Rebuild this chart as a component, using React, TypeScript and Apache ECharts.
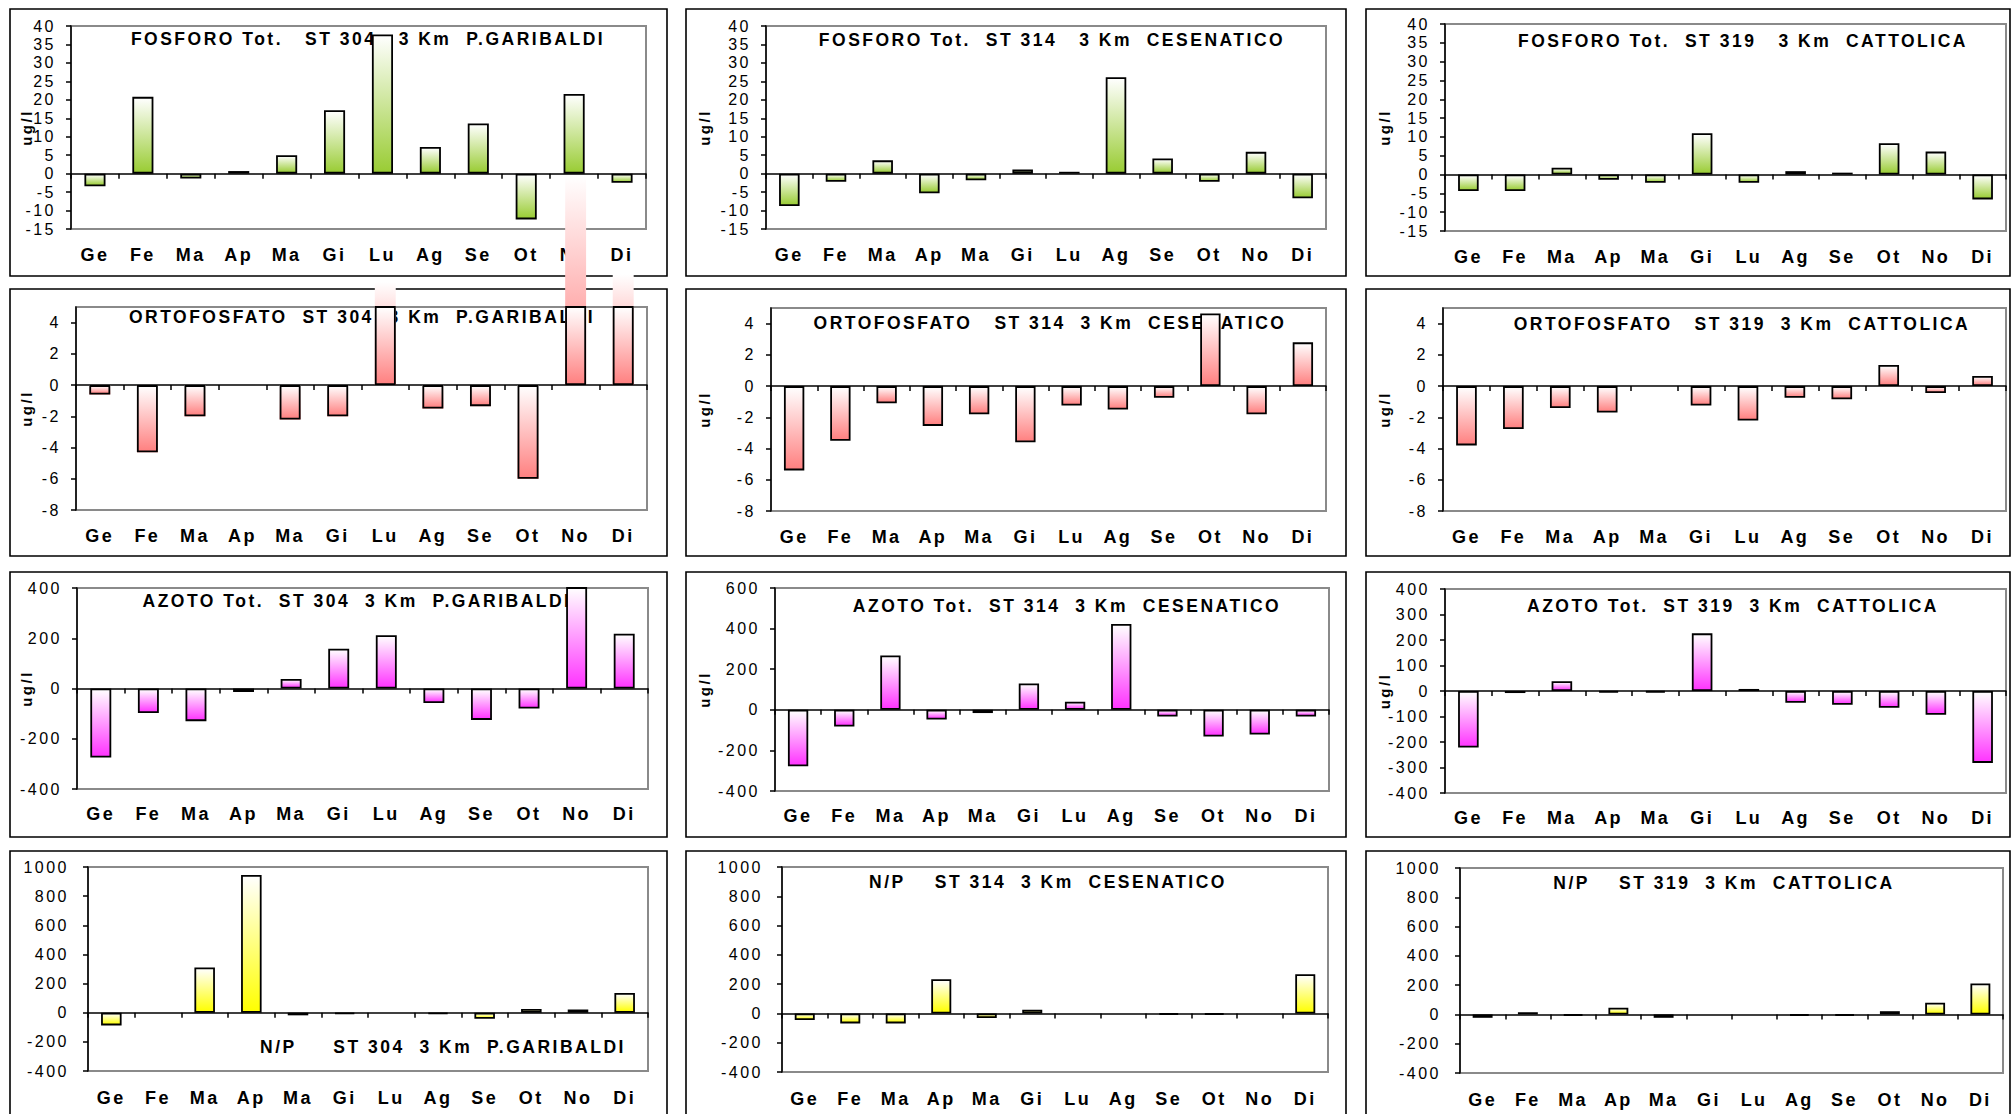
import React, { useEffect, useRef } from 'react';
import * as echarts from 'echarts';

// ---------- data ----------
const months = ['Ge', 'Fe', 'Ma', 'Ap', 'Ma', 'Gi', 'Lu', 'Ag', 'Se', 'Ot', 'No', 'Di'];

const fosforo304 = [-3.4, 20.8, -1.3, 0.7, 5.0, 17.2, 37.7, 7.2, 13.6, -12.4, 21.6, -2.5];
const fosforo314 = [-8.8, -2.2, 3.6, -5.3, -1.8, 1.1, 0.5, 26.1, 4.1, -2.2, 5.9, -6.7];
const fosforo319 = [-4.4, -4.4, 1.8, -1.4, -2.2, 11.0, -2.2, 0.9, 0.5, 8.3, 6.1, -6.6];

const orto304 = [-0.6, -4.3, -2.0, null, -2.2, -2.0, 6.6, -1.5, -1.35, -6.0, 13.4, 7.1];
const orto314 = [-5.4, -3.5, -1.1, -2.55, -1.8, -3.6, -1.25, -1.5, -0.75, 4.65, -1.8, 2.8];
const orto319 = [-3.8, -2.75, -1.4, -1.7, null, -1.25, -2.2, -0.75, -0.85, 1.35, -0.45, 0.65];

const azoto304 = [-275, -98, -130, -14, 38, 158, 212, -58, -125, -80, 415, 218];
const azoto314 = [-278, -82, 268, -48, -16, 130, 40, 423, -33, -132, -122, -33];
const azoto319 = [-222, -8, 38, -6, -6, 226, 8, -46, -54, -66, -93, -282];

const np304 = [-87, null, 310, 945, -18, -8, null, -8, -42, 25, 22, 135];
const np314 = [-45, -68, -68, 233, -32, 25, null, null, -8, -8, null, 268];
const np319 = [-23, 15, -8, 46, -23, null, null, -8, -8, 22, 80, 212];

const titles = [
  'FOSFORO Tot.   ST 304   3 Km  P.GARIBALDI',
  'FOSFORO Tot.  ST 314   3 Km  CESENATICO',
  'FOSFORO Tot.  ST 319   3 Km  CATTOLICA',
  'ORTOFOSFATO  ST 304  3 Km  P.GARIBALDI',
  'ORTOFOSFATO   ST 314  3 Km  CESENATICO',
  'ORTOFOSFATO   ST 319  3 Km  CATTOLICA',
  'AZOTO Tot.  ST 304  3 Km  P.GARIBALDI',
  'AZOTO Tot.  ST 314  3 Km  CESENATICO',
  'AZOTO Tot.  ST 319  3 Km  CATTOLICA',
  'N/P     ST 304  3 Km  P.GARIBALDI',
  'N/P    ST 314  3 Km  CESENATICO',
  'N/P    ST 319  3 Km  CATTOLICA',
];

const unitName = 'ug/l';

// axis scales [min, max, interval]
const fosforoScale = [-15, 40, 5];
const ortoScale = [-8, 5, 2];
const azoto304Scale = [-400, 400, 200];
const azoto314Scale = [-400, 600, 200];
const azoto319Scale = [-400, 400, 100];
const npScale = [-400, 1000, 200];

// ---------- layout & style ----------
const W = 2011;
const H = 1114;
const FONT = '"Liberation Sans", Arial, Helvetica, sans-serif';

const GREEN = '#99CC33';
const PINK = '#FF8080';
const MAGENTA = '#FF33FF';
const YELLOW = '#FFFF00';

// plot rectangles [left, top, right, bottom]
const PLOTS = [
  [71, 26, 646, 229],
  [766, 26, 1326, 229],
  [1445, 24, 2006, 231],
  [76, 307, 647, 510],
  [771, 308, 1326, 511],
  [1443, 308, 2006, 511],
  [77, 588, 648, 789],
  [775, 588, 1329, 791],
  [1445, 589, 2006, 793],
  [88, 867, 648, 1071],
  [782, 867, 1328, 1072],
  [1460, 868, 2003, 1073],
];
// outer panel frames
const COLS = [[10, 657], [686, 660], [1366, 644]];
const ROWS = [[9, 267], [289, 267], [572, 265], [851, 272]];
const TITLE_AT = [
  [368, 39], [1052, 40], [1743, 41],
  [362, 317], [1050, 323], [1742, 324],
  [357, 601], [1067, 606], [1733, 606],
  [443, 1047], [1048, 882], [1724, 883],
];
const NAME_RIGHT = [34, 712, 1392];
const CAT_MARGIN = [17, 17, 16, 18];
const VAL_MARGIN = [15, 15, 15, 19];

const panelData = [fosforo304, fosforo314, fosforo319, orto304, orto314, orto319, azoto304, azoto314, azoto319, np304, np314, np319];
const panelScale = [fosforoScale, fosforoScale, fosforoScale, ortoScale, ortoScale, ortoScale, azoto304Scale, azoto314Scale, azoto319Scale, npScale, npScale, npScale];
const panelColor = [GREEN, GREEN, GREEN, PINK, PINK, PINK, MAGENTA, MAGENTA, MAGENTA, YELLOW, YELLOW, YELLOW];
const OVERFLOW_PANEL = 3;

function grad(color: string) {
  return new echarts.graphic.LinearGradient(0, 0, 0, 1, [
    { offset: 0, color: '#ffffff' },
    { offset: 1, color },
  ]);
}

function buildOption() {
  const grid: any[] = [];
  const xAxis: any[] = [];
  const yAxis: any[] = [];
  const series: any[] = [];
  const graphics: any[] = [];

  for (let i = 0; i < 12; i++) {
    const row = Math.floor(i / 3);
    const col = i % 3;
    const [l, t, r, b] = PLOTS[i];
    const [mn, mx, step] = panelScale[i];

    graphics.push({
      type: 'rect',
      silent: true,
      z: 0,
      shape: { x: COLS[col][0], y: ROWS[row][0], width: COLS[col][1], height: ROWS[row][1] },
      style: { fill: 'none', stroke: '#000', lineWidth: 1.6 },
    });
    graphics.push({
      type: 'text',
      silent: true,
      z: 1,
      x: TITLE_AT[i][0],
      y: TITLE_AT[i][1],
      style: {
        text: titles[i],
        font: `bold 17.5px ${FONT}`,
        fill: '#000',
        align: 'center',
        verticalAlign: 'middle',
        textAlign: 'center',
        textVerticalAlign: 'middle',
      },
    });

    grid.push({
      left: l,
      top: t,
      width: r - l,
      height: b - t,
      show: true,
      borderColor: '#8a8a8a',
      borderWidth: 2,
      backgroundColor: 'transparent',
      containLabel: false,
      outerBoundsMode: 'none',
    });

    // category labels at the bottom of the plot
    xAxis.push({
      type: 'category',
      gridIndex: i,
      data: months,
      position: 'bottom',
      axisLine: { show: false, onZero: false },
      axisTick: { show: false },
      splitLine: { show: false },
      axisLabel: {
        show: true,
        interval: 0,
        margin: CAT_MARGIN[row],
        fontSize: 18,
        fontWeight: 'bold',
        fontFamily: FONT,
        color: '#000',
      },
    });
    // zero line with tick marks
    xAxis.push({
      type: 'category',
      gridIndex: i,
      data: months,
      position: 'bottom',
      axisLine: { show: true, onZero: true, lineStyle: { color: '#000', width: 1.5 } },
      axisTick: { show: true, length: 5, inside: false, lineStyle: { color: '#000', width: 1.5 } },
      axisLabel: { show: false },
      splitLine: { show: false },
    });

    yAxis.push({
      type: 'value',
      gridIndex: i,
      min: mn,
      max: mx,
      interval: step,
      position: 'left',
      axisLine: { show: true, onZero: false, lineStyle: { color: '#000', width: 1.5 } },
      axisTick: { show: true, length: 5, inside: false, lineStyle: { color: '#000', width: 1.5 } },
      splitLine: { show: false },
      axisLabel: {
        show: true,
        margin: VAL_MARGIN[row],
        fontSize: 16,
        fontFamily: FONT,
        color: '#000',
        showMaxLabel: mx % step === 0,
        formatter: (v: number) => String(v),
      },
      name: row < 3 ? unitName : '',
      nameLocation: 'middle',
      nameRotate: 90,
      nameGap: l - NAME_RIGHT[col],
      nameMoveOverlap: false,
      nameTextStyle: { fontSize: 15, fontWeight: 'bold', fontFamily: FONT, color: '#000' },
    });

    if (i === OVERFLOW_PANEL) {
      series.push({
        type: 'bar',
        xAxisIndex: 2 * i,
        yAxisIndex: i,
        data: panelData[i],
        barWidth: '44%',
        barGap: '-100%',
        clip: false,
        silent: true,
        z: 2,
        itemStyle: { color: grad(panelColor[i]), borderWidth: 0 },
      });
    }
    series.push({
      type: 'bar',
      xAxisIndex: 2 * i,
      yAxisIndex: i,
      data: panelData[i],
      barWidth: '44%',
      barGap: '-100%',
      clip: true,
      silent: true,
      z: 2,
      itemStyle: { color: grad(panelColor[i]), borderColor: '#000', borderWidth: 1.8 },
    });
  }

  return {
    animation: false,
    backgroundColor: '#ffffff',
    textStyle: { fontFamily: FONT },
    tooltip: { show: false },
    grid,
    xAxis,
    yAxis,
    series,
    graphic: { elements: graphics },
  };
}

export default function App() {
  const ref = useRef<HTMLDivElement>(null);
  useEffect(() => {
    if (!ref.current) return;
    const chart = echarts.init(ref.current, null, { renderer: 'svg' });
    chart.setOption(buildOption() as any);
    return () => chart.dispose();
  }, []);
  return (
    <div
      ref={ref}
      style={{
        position: 'absolute',
        left: 0,
        top: 0,
        width: W,
        height: H,
        letterSpacing: '2.5px',
        whiteSpace: 'pre',
        background: '#fff',
      }}
    />
  );
}
